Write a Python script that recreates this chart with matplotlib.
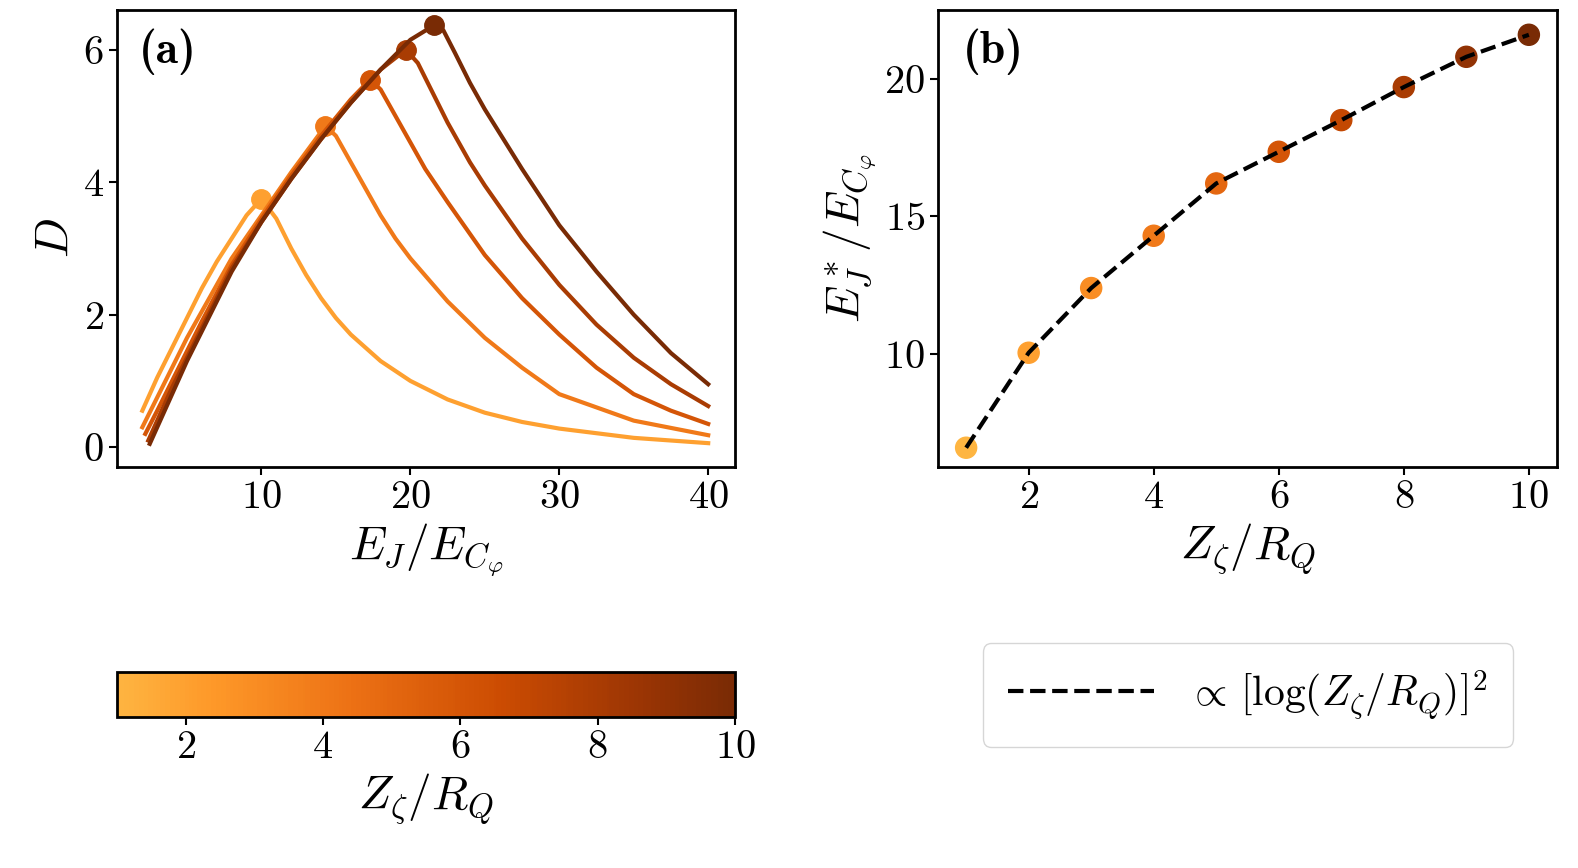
import numpy as np
import matplotlib
matplotlib.use("Agg")
import matplotlib.pyplot as plt
from matplotlib.colors import LinearSegmentedColormap, Normalize
from matplotlib.cm import ScalarMappable

plt.rcParams['font.family'] = 'serif'
plt.rcParams['font.serif'] = ['cmr10']
plt.rcParams['mathtext.fontset'] = 'cm'
plt.rcParams['axes.formatter.use_mathtext'] = True
plt.rcParams['font.size'] = 29

# Panel (a) data
z_curves = [2, 4, 6, 8, 10]
ej_curves = [
    [2.0, 3, 4, 5, 6, 7, 8, 9, 10.0, 11, 12, 13, 14, 15, 16, 18, 20, 22.5, 25, 27.5, 30, 35, 40],
    [2.0, 3, 4, 5, 6, 8, 10, 12, 14.3, 15, 16, 17, 18, 19, 20, 22.5, 25, 27.5, 30, 35, 40],
    [2.2, 3, 4, 5, 6, 8, 10, 12, 14, 16, 17.3, 18, 19, 20, 21, 22.5, 25, 27.5, 30, 32.5, 35, 37.5, 40],
    [2.4, 3, 4, 5, 6, 8, 10, 12, 14, 16, 18, 19.7, 20.5, 21.5, 22.5, 24, 25, 27.5, 30, 32.5, 35, 37.5, 40],
    [2.5, 3, 4, 5, 6, 8, 10, 12, 14, 16, 18, 20, 21.6, 22.2, 23, 24, 25, 27.5, 30, 32.5, 35, 37.5, 40],
]
d_curves = [
    [0.55, 1.05, 1.5, 1.95, 2.4, 2.8, 3.15, 3.5, 3.75, 3.45, 3.0, 2.6, 2.25, 1.95, 1.7, 1.3, 1.0, 0.72, 0.52, 0.38, 0.28, 0.14, 0.06],
    [0.3, 0.75, 1.2, 1.65, 2.05, 2.85, 3.5, 4.15, 4.85, 4.7, 4.3, 3.9, 3.5, 3.15, 2.85, 2.2, 1.65, 1.2, 0.8, 0.4, 0.18],
    [0.2, 0.55, 1.0, 1.45, 1.9, 2.75, 3.45, 4.1, 4.7, 5.25, 5.55, 5.4, 5.0, 4.6, 4.2, 3.7, 2.9, 2.25, 1.7, 1.2, 0.8, 0.55, 0.35],
    [0.1, 0.4, 0.9, 1.35, 1.8, 2.7, 3.4, 4.05, 4.65, 5.2, 5.7, 6.0, 5.8, 5.35, 4.9, 4.3, 3.95, 3.15, 2.45, 1.85, 1.35, 0.95, 0.62],
    [0.05, 0.3, 0.8, 1.3, 1.75, 2.65, 3.4, 4.05, 4.65, 5.2, 5.7, 6.15, 6.37, 6.3, 5.95, 5.5, 5.1, 4.2, 3.35, 2.65, 2.0, 1.42, 0.95],
]
peak_ej = [10.0, 14.3, 17.3, 19.7, 21.6]
peak_d = [3.75, 4.85, 5.55, 6.0, 6.37]

# Panel (b) data
z_vals = [1, 2, 3, 4, 5, 6, 7, 8, 9, 10]
ej_star = [6.6, 10.05, 12.4, 14.3, 16.2, 17.35, 18.5, 19.7, 20.8, 21.6]

base = plt.get_cmap('YlOrBr')
cmap = LinearSegmentedColormap.from_list('trunc', base(np.linspace(0.42, 0.95, 256)))
norm = Normalize(1, 10)

fig = plt.figure(figsize=(15.78, 8.68), dpi=100)
axa = fig.add_axes([117/1578, 1-467/868, (735-117)/1578, 457/868])
axb = fig.add_axes([938/1578, 1-467/868, (1557-938)/1578, 457/868])
cax = fig.add_axes([117/1578, 1-717/868, (735-117)/1578, 45/868])

for z, x, y, px, py in zip(z_curves, ej_curves, d_curves, peak_ej, peak_d):
    c = cmap(norm(z))
    axa.plot(x, y, color=c, lw=3)
    axa.plot(px, py, 'o', color=c, ms=14)
axa.set_xlim(0.3, 41.8)
axa.set_ylim(-0.3, 6.6)
axa.set_xticks([10, 20, 30, 40])
axa.set_yticks([0, 2, 4, 6])
axa.set_xlabel(r'$E_J/E_{C_\varphi}$', fontsize=34)
axa.set_ylabel(r'$D$', fontsize=34)
axa.text(0.035, 0.96, '(a)', transform=axa.transAxes, fontsize=33,
         family='cmb10', va='top', ha='left')

axb.plot(z_vals, ej_star, '--', color='black', lw=3, label=r'$\propto\,[\log(Z_\zeta/R_Q)]^2$', zorder=3)
axb.scatter(z_vals, ej_star, c=z_vals, cmap=cmap, norm=norm, s=230, zorder=2)
axb.set_xlim(0.55, 10.45)
axb.set_ylim(5.9, 22.5)
axb.set_xticks([2, 4, 6, 8, 10])
axb.set_yticks([10, 15, 20])
axb.set_xlabel(r'$Z_\zeta/R_Q$', fontsize=34)
axb.set_ylabel(r'$E_J^*/E_{C_\varphi}$', fontsize=34)
axb.text(0.04, 0.96, '(b)', transform=axb.transAxes, fontsize=33,
         family='cmb10', va='top', ha='left')
handles, labels = axb.get_legend_handles_labels()
fig.legend(handles, labels, loc='center', bbox_to_anchor=(1248/1578, 1-695/868),
           fontsize=30, handlelength=3.5, borderpad=0.6, fancybox=True)

cb = fig.colorbar(ScalarMappable(norm=norm, cmap=cmap), cax=cax, orientation='horizontal')
cb.set_ticks([2, 4, 6, 8, 10])
cb.set_label(r'$Z_\zeta/R_Q$', fontsize=34)

for ax in (axa, axb, cax):
    ax.tick_params(width=1.5, length=6)
    for s in ax.spines.values():
        s.set_linewidth(2)

fig.savefig('out.png', dpi=100)
